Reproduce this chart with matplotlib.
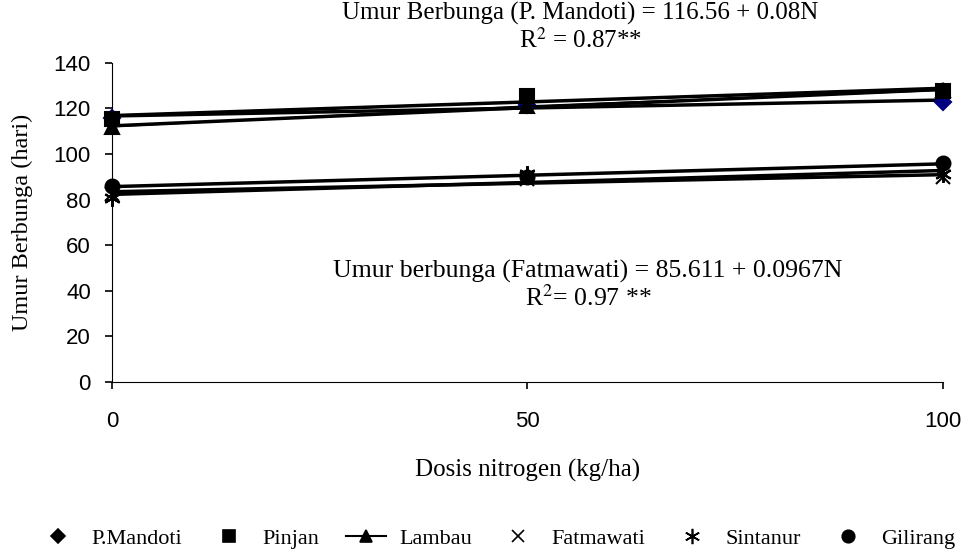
import numpy as np
import matplotlib.pyplot as plt
from matplotlib.lines import Line2D

dosis = [0, 50, 100]
mandoti = [116, 121.5, 123]
pinjan = [115.5, 125.5, 127.5]
lambau = [112, 121, 128]
fatmawati = [82.5, 89, 90]
sintanur = [80.5, 91, 91]
gilirang = [86, 90, 96]

series = [
    ('P.Mandoti', mandoti, 'D', '#000080', 8),
    ('Pinjan', pinjan, 's', 'black', 10),
    ('Lambau', lambau, '^', 'black', 10),
    ('Fatmawati', fatmawati, 'x', 'black', 10),
    ('Sintanur', sintanur, (6, 2, 0), 'black', 12),
    ('Gilirang', gilirang, 'o', 'black', 10),
]

serif = ['Liberation Serif', 'DejaVu Serif']
sans = ['Liberation Sans', 'DejaVu Sans']

fig = plt.figure(figsize=(9.64, 5.51), dpi=100)
ax = fig.add_axes([0.116, 0.307, 0.862, 0.579])

x = np.array(dosis)
xx = np.array([0, 100])
handles = []
for name, y, m, c, ms in series:
    # garis tren linear
    k, b = np.polyfit(x, y, 1)
    ax.plot(xx, k * xx + b, color='black', lw=2.5, zorder=2)
    ls = '-' if name == 'Lambau' else 'none'
    ax.plot(x, y, linestyle=ls, color='black', lw=1.2, marker=m, ms=ms,
            mfc=c, mec=c, mew=1.5, clip_on=False, zorder=3)
    handles.append(Line2D([], [], linestyle=ls, color='black', lw=1.5, marker=m,
                          ms=ms - 1, mfc='black', mec='black', mew=1.2))

ax.set_xlim(0, 100)
ax.set_ylim(0, 140)
ax.set_xticks([0, 50, 100])
ax.set_yticks(range(0, 141, 20))
ax.spines['top'].set_visible(False)
ax.spines['right'].set_visible(False)
ax.tick_params(direction='out', length=5, width=1.2, labelsize=16, pad=10)
ax.tick_params(axis='x', pad=16)
for lab in ax.get_xticklabels() + ax.get_yticklabels():
    lab.set_family(sans)

ax.set_ylabel('Umur Berbunga (hari)', family=serif, fontsize=17.5)
ax.yaxis.set_label_coords(-0.095, 0.5)
ax.set_xlabel('Dosis nitrogen (kg/ha)', family=serif, fontsize=18)
ax.xaxis.set_label_coords(0.5, -0.24)

fig.text(0.602, 0.975, 'Umur Berbunga (P. Mandoti) = 116.56 + 0.08N',
         family=serif, fontsize=18, ha='center', va='center')
fig.text(0.602, 0.926, r'R$^2$ = 0.87**', family=serif, fontsize=18,
         ha='center', va='center', math_fontfamily='stix')
fig.text(0.61, 0.508, 'Umur berbunga (Fatmawati) = 85.611 + 0.0967N',
         family=serif, fontsize=18.5, ha='center', va='center')
fig.text(0.61, 0.459, r'R$^2$= 0.97 **', family=serif, fontsize=18.5,
         ha='center', va='center', math_fontfamily='stix')

fig.legend(handles, [s[0] for s in series], loc='center', bbox_to_anchor=(0.515, 0.022),
           ncol=6, frameon=False, prop={'family': serif, 'size': 16},
           handlelength=1.8, handletextpad=0.6, columnspacing=1.2)

fig.savefig('out.png', dpi=100)
